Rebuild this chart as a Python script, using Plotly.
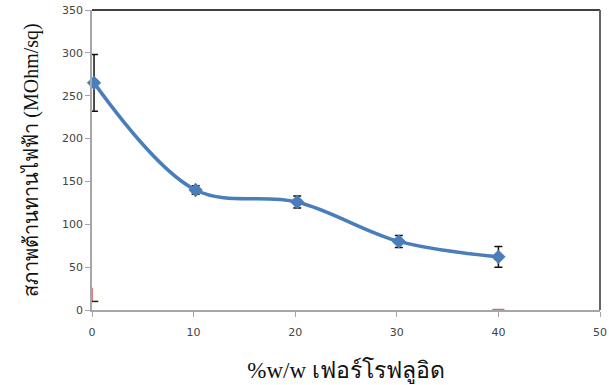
import plotly.graph_objects as go

x_vals = [0.2, 10.2, 20.2, 30.2, 40]
y_vals = [265, 140, 126, 80, 62]
y_err = [33, 5, 7, 7, 12]

red_x = [0, 0]
red_y = [10, 26]
red2_x = [39.4, 40.6]
red2_y = [0, 0]

x_ticks = [0, 10, 20, 30, 40, 50]
y_ticks = [0, 50, 100, 150, 200, 250, 300, 350]

fig = go.Figure()
fig.add_trace(go.Scatter(x=red_x, y=red_y, mode="lines",
                         line=dict(color="#d9534f", width=1.5), showlegend=False, hoverinfo="skip"))
fig.add_trace(go.Scatter(x=[0], y=[10], mode="markers",
                         marker=dict(symbol="line-ew", size=9, line=dict(color="#222", width=1.5)),
                         showlegend=False, hoverinfo="skip"))
fig.add_trace(go.Scatter(x=red2_x, y=red2_y, mode="lines",
                         line=dict(color="#e06666", width=2.5), showlegend=False, hoverinfo="skip",
                         cliponaxis=False))
fig.add_trace(go.Scatter(
    x=x_vals, y=y_vals, mode="lines+markers",
    line=dict(color="#4a7ebb", width=3.5, shape="spline", smoothing=1.0),
    marker=dict(symbol="diamond", size=11, color="#4a7ebb"),
    error_y=dict(type="data", array=y_err, color="#111", thickness=1.5, width=4),
    showlegend=False, cliponaxis=False))

fig.update_layout(
    width=609, height=385,
    margin=dict(l=92, r=9, t=10, b=75, autoexpand=False),
    paper_bgcolor="white", plot_bgcolor="white",
    xaxis=dict(range=[0, 50], tickvals=x_ticks, showgrid=False, zeroline=False, automargin=False,
               showline=True, linecolor="#a6a6a6", linewidth=1.5,
               ticks="outside", ticklen=5, tickcolor="#a6a6a6",
               tickfont=dict(family="DejaVu Sans", size=11, color="#444"),
               ticklabelstandoff=6,
               title=dict(text="%w/w เฟอร์โรฟลูอิด", font=dict(family="Liberation Serif, Noto Sans", size=23, color="#111"),
                          standoff=24)),
    yaxis=dict(range=[0, 350], tickvals=y_ticks, showgrid=False, zeroline=False, automargin=False,
               showline=True, linecolor="#a6a6a6", linewidth=1.5,
               ticks="outside", ticklen=5, tickcolor="#a6a6a6",
               tickfont=dict(family="DejaVu Sans", size=11, color="#444"),
               title=dict(text="สภาพต้านทานไฟฟ้า (MOhm/sq)", font=dict(family="Liberation Serif, Noto Sans", size=20, color="#111"),
                          standoff=18)),
    shapes=[
        dict(type="line", xref="paper", yref="paper", x0=0, x1=1, y0=1, y1=1, line=dict(color="#000", width=1.5)),
        dict(type="line", xref="paper", yref="paper", x0=1, x1=1, y0=0, y1=1, line=dict(color="#666", width=2)),
    ],
)
fig.write_html("out.html")
